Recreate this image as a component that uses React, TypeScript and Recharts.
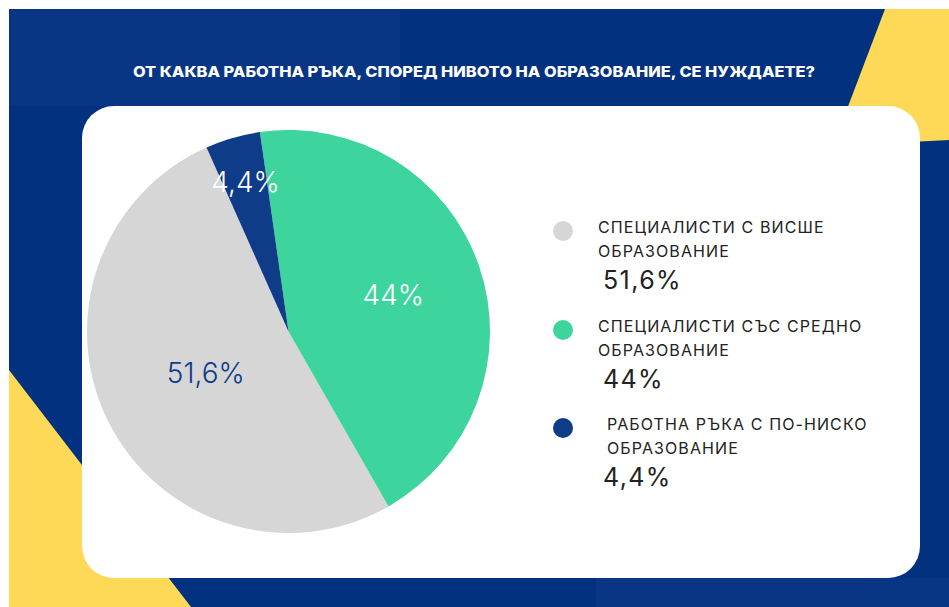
import { PieChart, Pie, Cell } from "recharts";

const TITLE = "ОТ КАКВА РАБОТНА РЪКА, СПОРЕД НИВОТО НА ОБРАЗОВАНИЕ, СЕ НУЖДАЕТЕ?";

const CATEGORIES = [
  "СПЕЦИАЛИСТИ С ВИСШЕ\nОБРАЗОВАНИЕ",
  "СПЕЦИАЛИСТИ СЪС СРЕДНО\nОБРАЗОВАНИЕ",
  "РАБОТНА РЪКА С ПО-НИСКО\nОБРАЗОВАНИЕ",
];
const VALUES = [51.6, 44, 4.4];
const COLORS = ["#d6d6d6", "#3dd59d", "#0e3c89"];
const LABEL_COLORS = ["#0e3c89", "#ffffff", "#ffffff"];

const NAVY = "#02317f";
const NAVY_LIGHT = "#083685";
const YELLOW = "#fdd957";

const data = CATEGORIES.map((name, i) => ({ name, value: VALUES[i] }));

const RADIAN = Math.PI / 180;
const LABEL_RADIUS = [0.46, 0.55, 0.77];

function formatPct(v: number) {
  return `${String(v).replace(".", ",")}%`;
}

// eslint-disable-next-line @typescript-eslint/no-explicit-any
function PieLabel({ cx, cy, midAngle, outerRadius, index }: any) {
  const r = outerRadius * LABEL_RADIUS[index];
  const x = cx + r * Math.cos(-midAngle * RADIAN);
  const y = cy + r * Math.sin(-midAngle * RADIAN);
  return (
    <text
      x={x}
      y={y}
      fill={LABEL_COLORS[index]}
      textAnchor="middle"
      dominantBaseline="central"
      fontSize={28}
      fontFamily="Inter, sans-serif"
      fontWeight={300}
    >
      {formatPct(VALUES[index])}
    </text>
  );
}

function Background() {
  return (
    <svg width={949} height={607} style={{ position: "absolute", left: 0, top: 0 }}>
      <rect x={9} y={9} width={940} height={598} fill={NAVY} />
      <rect x={9} y={9} width={391} height={97} fill={NAVY_LIGHT} />
      <rect x={596} y={578} width={353} height={29} fill={NAVY_LIGHT} />
      <polygon points="885,9 949,9 949,140 833,146" fill={YELLOW} />
      <polygon points="9,370 9,607 191,607" fill={YELLOW} />
      <rect x={82} y={106} width={838} height={472} rx={32} fill="#ffffff" />
      <text
        x={133}
        y={77}
        fill="#ffffff"
        fontFamily="Inter, sans-serif"
        fontWeight={800}
        fontSize={14.5}
        textLength={682}
        lengthAdjust="spacingAndGlyphs"
      >
        {TITLE}
      </text>
    </svg>
  );
}

function Legend() {
  return (
    <>
      {CATEGORIES.map((name, i) => {
        const top = 215 + i * 98.5;
        return (
          <div key={name} style={{ position: "absolute", left: 553, top, width: 360 }}>
            <div
              style={{
                position: "absolute",
                left: 0,
                top: 6,
                width: 20,
                height: 20,
                borderRadius: "50%",
                background: COLORS[i],
              }}
            />
            <div
              style={{
                position: "absolute",
                left: 45 + (i === 2 ? 9 : 0),
                top: 0,
                whiteSpace: "pre-line",
                fontFamily: "Inter, sans-serif",
                fontSize: 16,
                lineHeight: "24px",
                letterSpacing: 1.1,
                color: "#222222",
              }}
            >
              {name}
            </div>
            <div
              style={{
                position: "absolute",
                left: 50,
                top: 50,
                fontFamily: "Inter, sans-serif",
                fontSize: 25,
                lineHeight: "30px",
                letterSpacing: 1.4,
                color: "#222222",
              }}
            >
              {formatPct(VALUES[i])}
            </div>
          </div>
        );
      })}
    </>
  );
}

export default function App() {
  return (
    <div style={{ position: "absolute", left: 0, top: 0, width: 949, height: 607, background: "#ffffff", overflow: "hidden" }}>
      <Background />
      <div style={{ position: "absolute", left: 0, top: 0 }}>
        <PieChart width={949} height={607}>
          <Pie
            data={data}
            dataKey="value"
            nameKey="name"
            cx={283.5}
            cy={326.5}
            outerRadius={201.5}
            startAngle={114}
            endAngle={474}
            stroke="none"
            labelLine={false}
            label={PieLabel}
            isAnimationActive={false}
          >
            {data.map((d, i) => (
              <Cell key={d.name} fill={COLORS[i]} />
            ))}
          </Pie>
        </PieChart>
      </div>
      <Legend />
    </div>
  );
}
